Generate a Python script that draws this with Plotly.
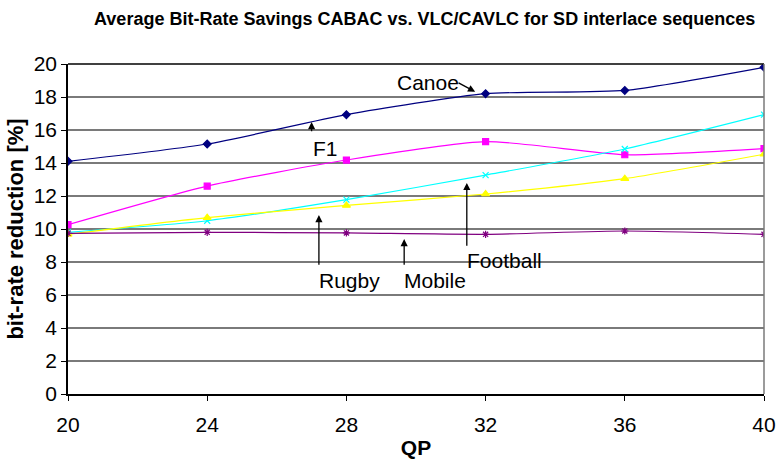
import plotly.graph_objects as go

# QP values on the x axis
qp = [20, 24, 28, 32, 36, 40]

# Bit-rate reduction [%] per sequence
canoe = [14.1, 15.15, 16.93, 18.2, 18.4, 19.8]
f1 = [10.26, 12.6, 14.18, 15.3, 14.5, 14.87]
football = [9.8, 10.5, 11.78, 13.27, 14.85, 16.93]
rugby = [9.68, 10.69, 11.43, 12.12, 13.05, 14.53]
mobile = [9.74, 9.8, 9.76, 9.68, 9.88, 9.68]

series = [
    ("Canoe", canoe, "#000080", "diamond", 6),
    ("F1", f1, "#FF00FF", "square", 6),
    ("Football", football, "#00FFFF", "x-thin-open", 6),
    ("Rugby", rugby, "#FFFF00", "triangle-up", 7),
    ("Mobile", mobile, "#800080", "asterisk-open", 6),
]

# Callout labels: text, text position, arrow tip, arrow tail (data units)
callouts = [
    ("Canoe", 30.35, 18.9, 31.7, 18.32, 31.18, 18.9),
    ("F1", 27.4, 14.9, 27.0, 16.48, 27.0, 15.83),
    ("Rugby", 28.1, 6.9, 27.21, 10.85, 27.21, 7.75),
    ("Mobile", 30.55, 6.9, 29.66, 9.39, 29.66, 7.75),
    ("Football", 32.53, 8.1, 31.46, 12.79, 31.46, 8.9),
]

font_family = "Arial, Liberation Sans, sans-serif"

fig = go.Figure()
for name, ys, color, symbol, size in series:
    fig.add_trace(go.Scatter(
        x=qp, y=ys, name=name, mode="lines+markers",
        line=dict(color=color, width=1.2, shape="spline", smoothing=0.6),
        marker=dict(symbol=symbol, size=size, color=color,
                    line=dict(color=color, width=1.2)),
        showlegend=False,
    ))

for text, tx, ty, hx, hy, sx, sy in callouts:
    fig.add_annotation(
        x=hx, y=hy, ax=sx, ay=sy, xref="x", yref="y", axref="x", ayref="y",
        text="", showarrow=True, arrowhead=2, arrowsize=1.1, arrowwidth=1.3,
        arrowcolor="black", standoff=0, startstandoff=0,
    )
    fig.add_annotation(
        x=tx, y=ty, xref="x", yref="y", text=text, showarrow=False,
        font=dict(family=font_family, size=21, color="black"),
    )

fig.update_layout(
    width=782, height=459,
    margin=dict(l=68, r=18, t=64, b=65),
    paper_bgcolor="white", plot_bgcolor="white",
    title=dict(
        text="<b>Average Bit-Rate Savings CABAC vs. VLC/CAVLC for SD interlace sequences</b>",
        x=0.543, xanchor="center", y=0.96, yanchor="middle",
        font=dict(family=font_family, size=18, color="black"),
    ),
    xaxis=dict(
        range=[20, 40], tickvals=qp, ticktext=[str(v) for v in qp],
        showgrid=False, zeroline=False, automargin=False,
        showline=True, linecolor="black", linewidth=1.5, mirror=False,
        ticks="outside", ticklen=5, tickcolor="black", ticklabelstandoff=6,
        tickfont=dict(family=font_family, size=21, color="black"),
        title=dict(text="<b>QP</b>", standoff=5,
                   font=dict(family=font_family, size=21, color="black")),
    ),
    yaxis=dict(
        range=[0, 20], tickvals=list(range(0, 21, 2)),
        showgrid=True, gridcolor="#7a7a7a", gridwidth=1.5, zeroline=False,
        automargin=False,
        showline=True, linecolor="black", linewidth=1.5,
        ticks="outside", ticklen=5, tickcolor="black",
        tickfont=dict(family=font_family, size=21, color="black"),
        title=dict(text="<b>bit-rate reduction [%]</b>", standoff=4,
                   font=dict(family=font_family, size=22, color="black")),
    ),
    shapes=[
        dict(type="line", xref="paper", yref="paper", x0=0, x1=1, y0=1, y1=1,
             line=dict(color="black", width=1.5)),
        dict(type="line", xref="paper", yref="paper", x0=1, x1=1, y0=0, y1=1,
             line=dict(color="#7a7a7a", width=1.5)),
    ],
)

fig.write_html("out.html")
